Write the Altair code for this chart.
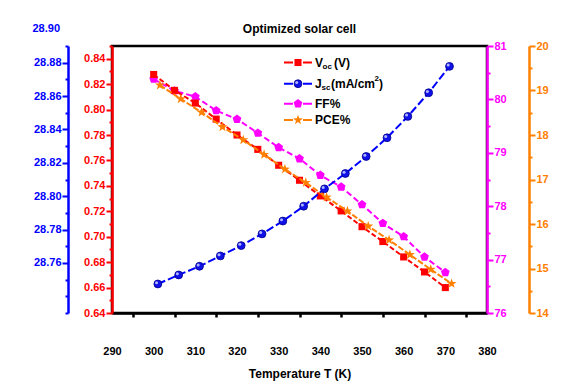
import altair as alt
import pandas as pd

FONT = "Liberation Sans"

# ---- data ----
T_voc = [300, 305, 310, 315, 320, 325, 330, 335, 340, 345, 350, 355, 360, 365, 370]
Voc = [0.8276, 0.8151, 0.8051, 0.7925, 0.7800, 0.7687, 0.7562, 0.7444, 0.7321,
       0.7203, 0.7079, 0.6962, 0.6841, 0.6723, 0.6600]
T_jsc = [301, 306, 311, 316, 321, 326, 331, 336, 341, 346, 351, 356, 361, 366, 371]
Jsc = [28.7474, 28.7528, 28.7580, 28.7642, 28.7704, 28.7774, 28.7851, 28.7940,
       28.8044, 28.8136, 28.8238, 28.8350, 28.8478, 28.8620, 28.8778]
T_ff = [300, 305, 310, 315, 320, 325, 330, 335, 340, 345, 350, 355, 360, 365, 370]
FF = [80.38, 80.16, 80.05, 79.79, 79.63, 79.37, 79.10, 78.89, 78.58, 78.36,
      78.03, 77.68, 77.43, 77.05, 76.76]
T_pce = [301.5, 306.5, 311.5, 316.5, 321.5, 326.5, 331.5, 336.5, 341.5, 346.5,
         351.5, 356.5, 361.5, 366.5, 371.5]
PCE = [19.12, 18.81, 18.51, 18.18, 17.89, 17.56, 17.23, 16.93, 16.60, 16.29,
       15.95, 15.64, 15.31, 14.98, 14.66]

x_ticks = list(range(290, 385, 5))
voc_ticks = [round(0.64 + 0.01 * i, 2) for i in range(22)]
jsc_ticks = [round(28.73 + 0.01 * i, 2) for i in range(17)]
ff_ticks = [76 + 0.5 * i for i in range(11)]
pce_ticks = [14 + 0.5 * i for i in range(13)]
jsc_extra_label = [28.90]
TITLE = "Optimized solar cell"

RED = "#ff0000"
BLUE = "#0000ff"
MAG = "#ff00ff"
ORA = "#ff8000"

PENT = "M0,-1L0.951,-0.309L0.588,0.809L-0.588,0.809L-0.951,-0.309Z"
STAR = ("M0,-1L0.235,-0.324L0.951,-0.309L0.380,0.124L0.588,0.809L0,0.4"
        "L-0.588,0.809L-0.380,0.124L-0.951,-0.309L-0.235,-0.324Z")

xaxis = alt.Axis(
    values=x_ticks,
    labelExpr="datum.value % 10 == 0 ? datum.label : ''",
    tickSize={"condition": {"test": "datum.value % 10 == 0", "value": 0}, "value": 4},
    tickWidth=2.5, tickColor="black", domainColor="black", domainWidth=2.5,
    labelFont=FONT, labelFontWeight="bold", labelFontSize=11, labelColor="black",
    labelPadding=32, labelOverlap=False, labelFlush=False,
    title="Temperature T (K)", titleFont=FONT, titleFontSize=12, titleFontWeight="bold",
    titleColor="black", titlePadding=8, grid=False,
)
xenc = alt.X("T:Q", scale=alt.Scale(domain=[290, 380], nice=False, zero=False), axis=xaxis)


def yaxis(color, orient, offset, values, major_test, fmt):
    return alt.Axis(
        orient=orient, offset=offset, values=values, format=fmt,
        labelExpr=f"({major_test}) ? datum.label : ''",
        tickSize={"condition": {"test": major_test, "value": 6}, "value": 3},
        tickWidth=2, tickColor=color, domainColor=color, domainWidth=2.5,
        labelColor=color, labelFont=FONT, labelFontSize=11, labelFontWeight="bold",
        labelPadding=1, labelOverlap=False, labelFlush=False, title=None, grid=False,
    )


def series(T, vals, domain, axis, color, dash):
    df = pd.DataFrame({"T": T, "v": vals})
    base = alt.Chart(df).encode(
        x=xenc,
        y=alt.Y("v:Q", scale=alt.Scale(domain=domain, nice=False, zero=False), axis=axis),
    )
    line = base.mark_line(color=color, strokeWidth=2, strokeDash=dash)
    return base, line


ax_voc = yaxis(RED, "left", 0, voc_ticks, "round(datum.value*100) % 2 == 0 && datum.value < 0.845", ".2f")
ax_jsc = yaxis(BLUE, "left", 44, jsc_ticks, "round(datum.value*100) % 2 == 0 && datum.value > 28.755", ".2f")
ax_ff = yaxis(MAG, "right", 0, ff_ticks, "datum.value % 1 == 0", ".0f")
ax_pce = yaxis(ORA, "right", 42, pce_ticks, "datum.value % 1 == 0", ".0f")

b_voc, l_voc = series(T_voc, Voc, [0.64, 0.85], ax_voc, RED, [5, 2.5])
voc_layer = alt.layer(l_voc, b_voc.mark_square(size=50, color=RED, opacity=1))

b_jsc, l_jsc = series(T_jsc, Jsc, [28.73, 28.89], ax_jsc, BLUE, [8, 3])
jsc_lbl = alt.Chart(pd.DataFrame({"v": jsc_extra_label, "t": ["28.90"]})).mark_text(
    align="right", baseline="middle", font=FONT, fontSize=11, fontWeight="bold", color=BLUE
).encode(
    x=alt.value(-52),
    y=alt.Y("v:Q", scale=alt.Scale(domain=[28.73, 28.89], nice=False, zero=False), axis=ax_jsc),
    text="t:N",
)
jsc_layer = alt.layer(
    l_jsc,
    b_jsc.mark_circle(size=62, color="#1010e8", opacity=1, stroke="#00008c", strokeWidth=0.8),
    b_jsc.mark_circle(size=9, color="#b8c0ff", opacity=0.95, xOffset=-1.3, yOffset=-1.3),
    jsc_lbl,
)

b_ff, l_ff = series(T_ff, FF, [76, 81], ax_ff, MAG, [6, 3])
ff_layer = alt.layer(l_ff, b_ff.mark_point(shape=PENT, filled=True, size=85, color=MAG, opacity=1))

b_pce, l_pce = series(T_pce, PCE, [14, 20], ax_pce, ORA, [6, 2])
pce_layer = alt.layer(l_pce, b_pce.mark_point(shape=STAR, filled=True, size=110, color=ORA, opacity=1))

# ---- manual legend (supports sub/superscripts) and title ----
one = pd.DataFrame({"a": [0]})


def leg_line(y, color):
    return alt.Chart(one).mark_rule(color=color, strokeWidth=2, strokeDash=[9, 10]).encode(
        x=alt.value(172), x2=alt.value(200), y=alt.value(y))


def leg_txt(s, x, y, size, align="left"):
    return alt.Chart(one).mark_text(
        text=s, align=align, baseline="middle", font=FONT, fontSize=size,
        fontWeight="bold", color="black").encode(x=alt.value(x), y=alt.value(y))


LX = 186
legend = [
    leg_line(16.5, RED),
    alt.Chart(one).mark_square(size=50, color=RED, opacity=1).encode(x=alt.value(LX), y=alt.value(16.5)),
    leg_txt("V", 203, 16.5, 12), leg_txt("oc", 210.5, 20.5, 8), leg_txt("(V)", 222, 16.5, 12),
    leg_line(37.7, BLUE),
    alt.Chart(one).mark_circle(size=62, color="#1010e8", opacity=1, stroke="#00008c", strokeWidth=0.8).encode(
        x=alt.value(LX), y=alt.value(37.7)),
    alt.Chart(one).mark_circle(size=9, color="#b8c0ff", opacity=0.95, xOffset=-1.3, yOffset=-1.3).encode(
        x=alt.value(LX), y=alt.value(37.7)),
    leg_txt("J", 203, 37.7, 12), leg_txt("sc", 209.5, 41.7, 8), leg_txt("(mA/cm", 219, 37.7, 12),
    leg_txt("2", 262.5, 33, 8), leg_txt(")", 267, 37.7, 12),
    leg_line(57.7, MAG),
    alt.Chart(one).mark_point(shape=PENT, filled=True, size=85, color=MAG, opacity=1).encode(
        x=alt.value(LX), y=alt.value(57.7)),
    leg_txt("FF%", 203, 57.7, 12),
    leg_line(74, ORA),
    alt.Chart(one).mark_point(shape=STAR, filled=True, size=110, color=ORA, opacity=1).encode(
        x=alt.value(LX), y=alt.value(74)),
    leg_txt("PCE%", 203, 74, 12),
    leg_txt(TITLE, 187.5, -17, 12, align="center"),
]

chart = alt.layer(ff_layer, voc_layer, pce_layer, jsc_layer, *legend).resolve_scale(
    y="independent"
).properties(
    width=375, height=267,
    autosize=alt.AutoSizeParams(type="none"),
    padding={"left": 104, "top": 38, "right": 87, "bottom": 73},
).configure_view(stroke="black", strokeWidth=2.5)

chart.save("out.html", embed_options={"renderer": "svg", "actions": False})
